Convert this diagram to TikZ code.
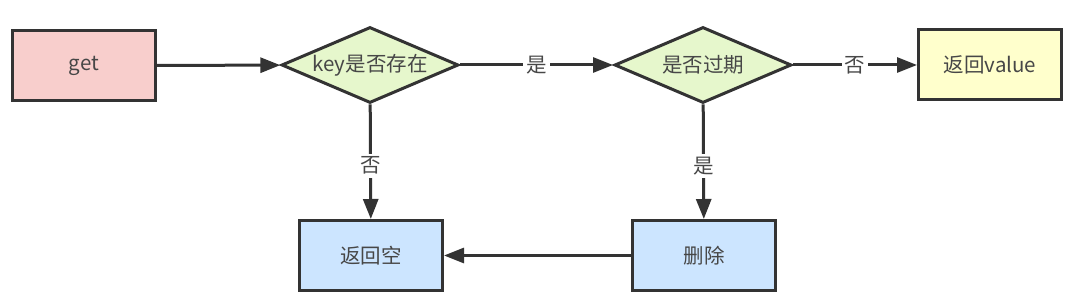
\documentclass[tikz,border=0pt]{standalone}
\usepackage{fontspec}
\setmainfont{Noto Sans CJK SC}
\usetikzlibrary{arrows.meta,shapes.geometric}
\definecolor{edge}{HTML}{333333}
\definecolor{pinkf}{HTML}{F8CECC}
\definecolor{greenf}{HTML}{E6F7CC}
\definecolor{yellowf}{HTML}{FFFFCC}
\definecolor{bluef}{HTML}{CCE5FF}
\tikzset{
  box/.style={draw=edge, line width=3pt, minimum width=143pt, minimum height=70pt, inner sep=0pt, font=\fontsize{20.5}{24}\selectfont, text=edge!90},
  dia/.style={draw=edge, line width=3pt, diamond, aspect=2.3, minimum width=177pt, minimum height=76pt, inner sep=0pt, fill=greenf, font=\fontsize{20.5}{24}\selectfont, text=edge!90},
  conn/.style={draw=edge, line width=3pt, -{Triangle[length=20pt,width=15pt]}},
  lbl/.style={fill=white, inner sep=3pt, font=\fontsize{20.5}{24}\selectfont, text=edge!90}
}
\begin{document}
\begin{tikzpicture}[x=1pt,y=-1pt]
\useasboundingbox (0,0) rectangle (1080,304);
\node[box, fill=pinkf] (get) at (84,65.5) {get};
\node[dia] (d1) at (370,65) {key是否存在};
\node[dia] (d2) at (703,65) {是否过期};
\node[box, fill=yellowf] (val) at (990,65) {返回value};
\node[box, fill=bluef] (empty) at (371,255.5) {返回空};
\node[box, fill=bluef] (del) at (704,255.5) {删除};
\draw[conn] (get) -- (d1);
\draw[conn] (d1) -- node[lbl] {是} (d2);
\draw[conn] (d2) -- node[lbl] {否} (val);
\draw[conn] (d1) -- node[lbl, yshift=-4pt] {否} (empty);
\draw[conn] (d2) -- node[lbl, yshift=-4pt] {是} (del);
\draw[conn] (del) -- (empty);
\end{tikzpicture}
\end{document}
